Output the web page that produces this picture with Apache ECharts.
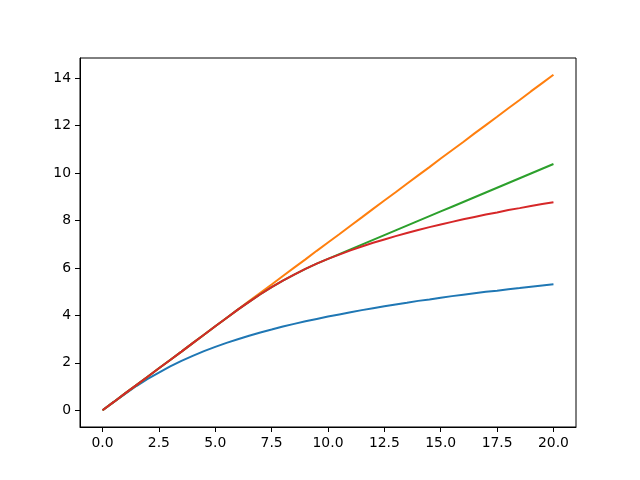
<!DOCTYPE html>
<html>
<head>
<meta charset="utf-8">
<script src="https://cdn.jsdelivr.net/npm/echarts@6/dist/echarts.min.js"></script>
<style>html,body{margin:0;padding:0;background:#fff;}#c{width:640px;height:480px;}</style>
</head>
<body>
<div id="c"></div>
<script>
var xs = [0,0.5,1,1.5,2,2.5,3,3.5,4,4.5,5,5.5,6,6.5,7,7.5,8,8.5,9,9.5,10,10.5,11,11.5,12,12.5,13,13.5,14,14.5,15,15.5,16,16.5,17,17.5,18,18.5,19,19.5,20];
var blue = [0,0.35,0.69,1.02,1.32,1.59,1.85,2.08,2.29,2.49,2.67,2.84,2.99,3.14,3.28,3.40,3.53,3.64,3.75,3.85,3.95,4.04,4.13,4.22,4.30,4.38,4.46,4.53,4.61,4.67,4.74,4.81,4.87,4.93,4.99,5.04,5.10,5.15,5.21,5.26,5.31];
var orange = [0,0.35,0.71,1.06,1.41,1.77,2.12,2.47,2.83,3.18,3.54,3.89,4.24,4.60,4.95,5.30,5.66,6.01,6.36,6.72,7.07,7.42,7.78,8.13,8.49,8.84,9.19,9.55,9.90,10.25,10.61,10.96,11.31,11.67,12.02,12.37,12.73,13.08,13.44,13.79,14.14];
var green = [0,0.35,0.71,1.06,1.41,1.77,2.12,2.47,2.83,3.18,3.54,3.89,4.24,4.57,4.89,5.19,5.46,5.72,5.96,6.18,6.38,6.58,6.78,6.98,7.18,7.38,7.58,7.78,7.98,8.18,8.38,8.58,8.78,8.98,9.18,9.38,9.58,9.78,9.98,10.18,10.38];
var red = [0,0.35,0.71,1.06,1.41,1.77,2.12,2.47,2.83,3.18,3.54,3.89,4.24,4.57,4.89,5.19,5.46,5.72,5.96,6.18,6.38,6.56,6.74,6.90,7.06,7.20,7.34,7.47,7.60,7.72,7.83,7.94,8.05,8.15,8.25,8.34,8.44,8.52,8.61,8.69,8.77];
var xTicks = [0,2.5,5,7.5,10,12.5,15,17.5,20];
var yTicks = [0,2,4,6,8,10,12,14];

function pairs(ys){ return xs.map(function(x,i){ return [x, ys[i]]; }); }
var colors = ['#1f77b4','#ff7f0e','#2ca02c','#d62728'];
var all = [blue, orange, green, red];
var series = all.map(function(ys, i){
  return {type:'line', data: pairs(ys), symbol:'none', smooth:false,
          lineStyle:{color:colors[i], width:2}, itemStyle:{color:colors[i]}, z: 2+i};
});
var font = {fontFamily:'DejaVu Sans', fontSize:13.9, color:'#000'};
var chart = echarts.init(document.getElementById('c'), null, {renderer:'canvas'});
chart.setOption({
  animation:false,
  backgroundColor:'#fff',
  grid:{left:80, right:64, top:58, bottom:53, show:true, borderColor:'#000', borderWidth:1, containLabel:false},
  xAxis:{type:'value', min:-1, max:21,
    splitLine:{show:false},
    axisLine:{show:true, onZero:false, lineStyle:{color:'#000', width:1}},
    axisTick:{show:true, length:5, customValues:xTicks, lineStyle:{color:'#000'}},
    axisLabel:Object.assign({customValues:xTicks, margin:9, formatter:function(v){return v.toFixed(1);}}, font)
  },
  yAxis:{type:'value', min:-0.707, max:14.849,
    splitLine:{show:false},
    axisLine:{show:true, onZero:false, lineStyle:{color:'#000', width:1}},
    axisTick:{show:true, length:5, customValues:yTicks, lineStyle:{color:'#000'}},
    axisLabel:Object.assign({customValues:yTicks, margin:9, formatter:function(v){return String(Math.round(v));}}, font)
  },
  series: series
});
</script>
</body>
</html>
